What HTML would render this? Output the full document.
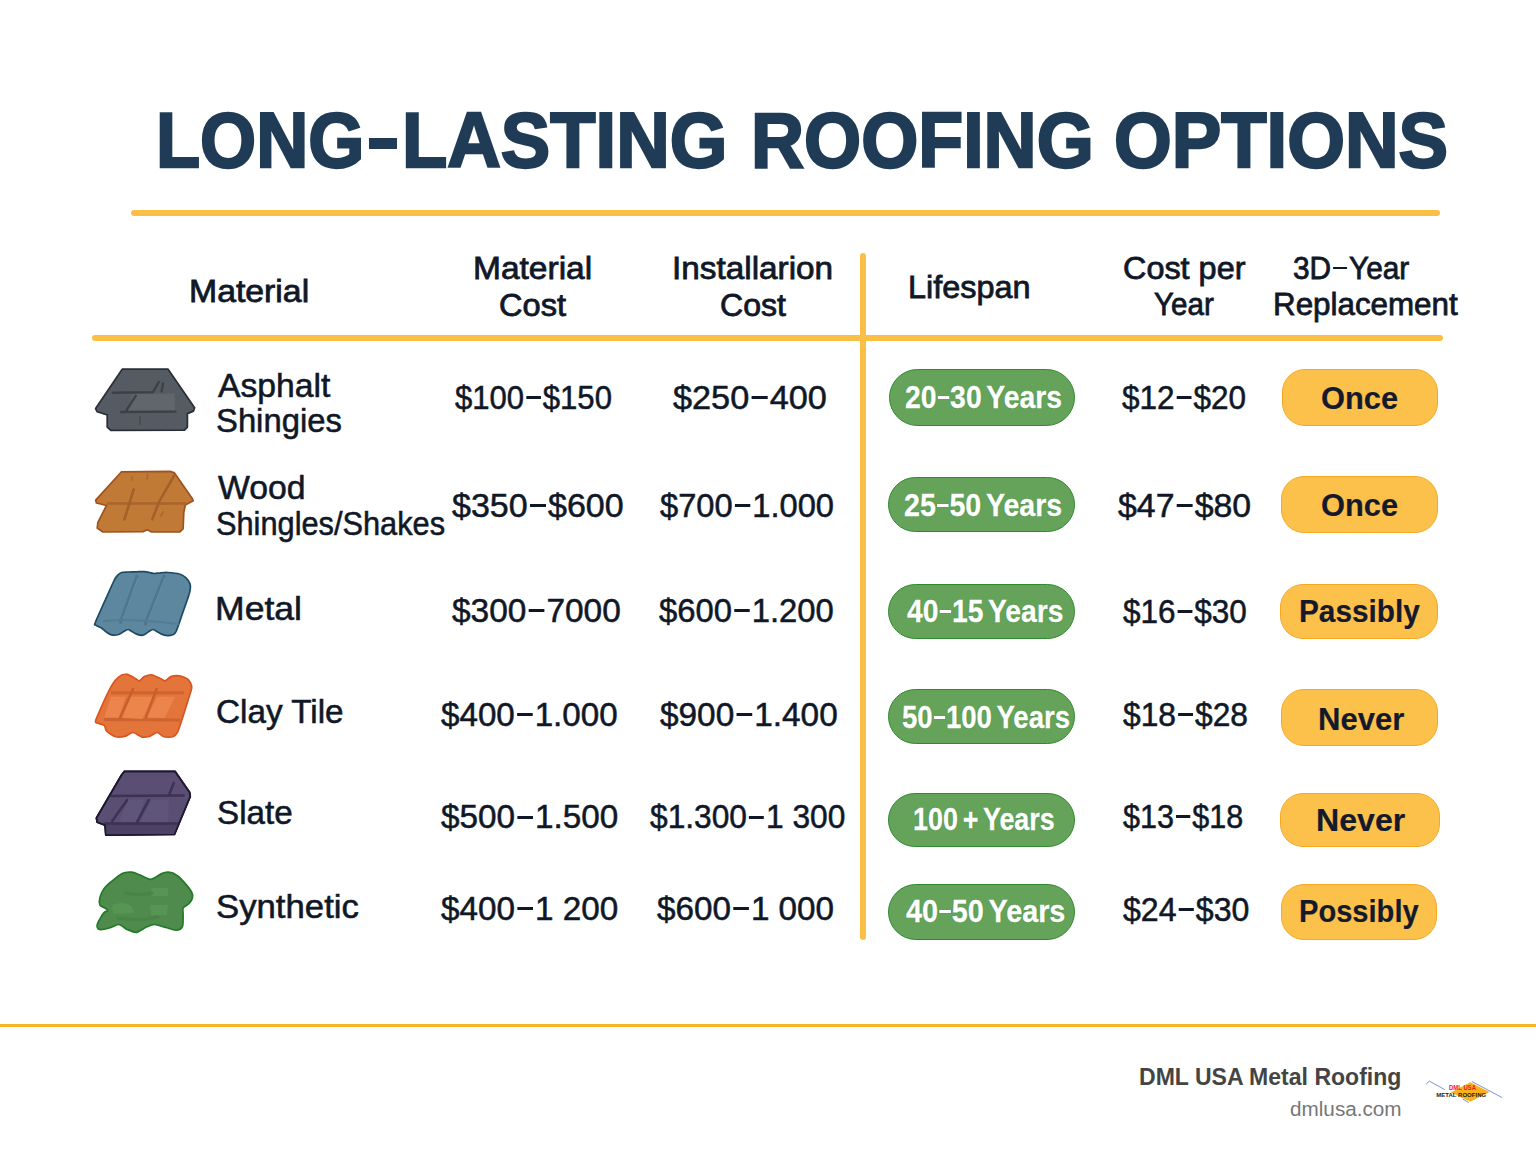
<!DOCTYPE html>
<html><head><meta charset="utf-8"><title>Long-Lasting Roofing Options</title>
<style>
html,body{margin:0;padding:0;background:#ffffff;}
body{width:1536px;height:1154px;position:relative;overflow:hidden;font-family:"Liberation Sans",sans-serif;}
.t{position:absolute;white-space:nowrap;line-height:1;transform-origin:0 0;}
.title{-webkit-text-stroke:2.4px #1f3b55;}
.med{-webkit-text-stroke:0.55px #101827;}
.hd{-webkit-text-stroke:0.8px #101827;}
.gt{-webkit-text-stroke:0.4px #ffffff;word-spacing:-3px;text-shadow:0 0 1px #2f7d2f,0 0 1px #2f7d2f;}
.gt .d{margin:0 .04em 0 .04em;width:.4em;}
.yt{-webkit-text-stroke:0.2px #141a2c;}
.d{display:inline-block;width:.47em;height:.09em;background:currentColor;vertical-align:.29em;margin:0 .07em 0 .06em;}
.gt .d{height:.1em;box-shadow:0 0 1px #2f7d2f;}
.td{display:inline-block;width:29px;height:9px;background:currentColor;vertical-align:21.5px;margin:0 7px 0 6px;}
.ln{position:absolute;background:#fbbf45;border-radius:3px;}
.gp{position:absolute;box-sizing:border-box;background:#66a35a;border:1.7px solid #2f8a30;border-radius:29px;}
.yp{position:absolute;box-sizing:border-box;background:#fcc14b;border:1.8px solid #f5a823;border-radius:23px;}
svg{position:absolute;left:0;top:0;}
</style></head><body>
<div class="ln" style="left:131px;top:210px;width:1309px;height:6px"></div>
<div class="ln" style="left:92px;top:335px;width:1351px;height:6px"></div>
<div class="ln" style="left:860px;top:253px;width:6px;height:687px"></div>
<div style="position:absolute;left:0;top:1024px;width:1536px;height:3px;background:#f7b52a"></div>
<svg width="1536" height="1154" viewBox="0 0 1536 1154" style="position:absolute;left:0;top:0">
<path d="M122.2,369.2 L168.1,369.2 L194.6,407.8 L193.5,411.1 L187.4,413.6 L187.4,427.2 L184.6,430.1 L110.8,430.4 L107.2,427.2 L107.2,415.0 L97.2,411.8 L95.6,408.6 Z" fill="#555b62" stroke="#2a2f35" stroke-width="1.7" stroke-linejoin="round"/>
<path d="M132.5,394 L174.5,393.5 L175,410.5 L127,411 Z" fill="#5f666c"/>
<path d="M112.9,392.8 L153,392.1 L158.8,382 M163,383.5 L161.6,391.4 M135.8,395.7 L125.8,411.4 M121,412 L175.5,411.6" fill="none" stroke="#3b4147" stroke-width="2.4" stroke-linecap="round"/>
<path d="M140,417 L140,424" fill="none" stroke="#474d53" stroke-width="2" stroke-linecap="round"/>
<path d="M121.5,471.8 L170.2,471.4 L174.5,472.9 L192.4,498.7 L193.2,500.8 L185.3,505.1 L183.8,512.3 L183.1,528.8 L179.5,532.0 L151.6,532.0 L147.3,529.8 L143.0,531.6 L102.9,532.0 L97.2,528.0 L97.9,522.3 L106.5,505.5 L96.4,503.0 L95.7,500.1 Z" fill="#c07a36" stroke="#a0521c" stroke-width="1.7" stroke-linejoin="round"/>
<path d="M107,503.5 L186,503.5" fill="none" stroke="#a9652c" stroke-width="2.6"/>
<path d="M174.5,475 L158.8,502.2 L152.3,519.4 M133.7,489.4 L124.4,519.4" fill="none" stroke="#a3612a" stroke-width="2.6" stroke-linecap="round"/>
<path d="M147.5,474.5 L147,479 M132,477 L131.5,480 M163,512 L161,516" fill="none" stroke="#ad6a30" stroke-width="1.8" stroke-linecap="round"/>
<path d="M121.5,572.5 C123.3,571.9 125.5,572.1 128.0,572.0 C130.5,571.9 133.8,571.9 136.6,571.8 C139.3,571.7 142.3,571.5 144.4,571.6 C146.6,571.7 147.8,572.2 149.5,572.5 C151.1,572.8 152.7,573.4 154.5,573.5 C156.3,573.5 158.1,573.0 160.2,572.9 C162.3,572.7 164.1,572.3 167.4,572.5 C170.6,572.7 176.4,573.1 179.5,574.0 C182.6,574.8 184.3,576.3 186.0,577.9 C187.7,579.5 189.2,581.8 189.9,583.6 C190.6,585.4 190.5,586.7 190.3,588.6 C190.1,590.5 190.2,590.9 188.9,595.1 C187.5,599.3 184.6,607.6 182.4,613.7 C180.3,619.8 177.6,628.1 176.0,631.6 C174.3,635.1 173.8,634.2 172.4,634.8 C170.9,635.5 169.2,635.7 167.4,635.6 C165.6,635.4 163.5,634.9 161.6,634.1 C159.7,633.4 157.3,631.7 155.9,630.9 C154.5,630.1 154.2,629.4 153.0,629.5 C151.8,629.6 150.4,630.7 148.7,631.6 C147.1,632.6 145.0,634.8 143.0,635.2 C141.0,635.6 138.5,634.8 136.6,634.1 C134.7,633.5 133.0,632.0 131.5,631.3 C130.1,630.5 129.3,629.4 128.0,629.5 C126.7,629.5 125.2,630.8 123.7,631.6 C122.1,632.5 120.7,633.9 118.7,634.5 C116.6,635.0 113.6,635.3 111.5,634.8 C109.3,634.4 107.4,632.8 105.8,631.6 C104.1,630.5 103.1,629.1 101.5,628.0 C99.8,627.0 96.7,626.1 95.7,625.2 C94.7,624.2 93.9,626.1 95.4,622.3 C96.8,618.5 101.3,609.1 104.3,602.2 C107.4,595.4 111.5,585.9 113.6,581.5 C115.8,577.1 115.9,577.2 117.2,575.7 C118.5,574.3 119.7,573.1 121.5,572.5 Z" fill="#5d879e" stroke="#1f4a66" stroke-width="1.7" stroke-linejoin="round"/>
<path d="M137,576.5 L120.5,622.3 M164,576.5 L145.5,623.7" fill="none" stroke="#4d778f" stroke-width="3.4" stroke-linecap="round"/>
<path d="M135,578 L119.5,621 M162,578 L144.5,622" fill="none" stroke="#6690a7" stroke-width="1" stroke-linecap="round" transform="translate(3,0)"/>
<path d="M104,621 Q130,618 178,624" fill="none" stroke="#527d95" stroke-width="2.2" stroke-linecap="round"/>
<path d="M111.5,685.9 C114.2,681.1 118.2,677.2 120.1,675.9 C121.9,674.5 125.4,674.1 127.2,674.4 C129.1,674.8 134.4,678.0 135.8,678.7 C137.3,679.5 138.4,681.1 139.4,680.9 C140.4,680.6 143.0,677.3 144.4,676.6 C145.9,675.9 149.7,674.6 151.6,674.8 C153.5,675.1 159.3,678.0 160.9,678.7 C162.5,679.5 164.0,681.1 165.2,680.9 C166.4,680.6 169.3,677.2 170.9,676.6 C172.6,676.0 177.5,675.5 179.5,675.9 C181.5,676.2 186.7,678.2 188.1,679.5 C189.6,680.7 191.5,685.0 191.7,686.6 C192.0,688.2 191.9,687.9 190.3,693.1 C188.7,698.3 180.2,725.9 178.1,731.0 C176.0,736.1 174.0,736.1 172.4,736.8 C170.7,737.4 165.5,737.3 163.8,736.8 C162.0,736.3 158.9,732.6 157.3,732.5 C155.7,732.4 151.9,735.5 150.2,736.1 C148.4,736.6 144.3,737.5 142.3,737.1 C140.3,736.7 134.9,732.6 133.0,732.5 C131.1,732.3 127.8,735.6 125.8,736.1 C123.8,736.6 118.0,737.4 115.8,736.8 C113.5,736.2 107.8,732.4 106.5,731.0 C105.1,729.7 105.6,726.3 104.3,725.3 C103.1,724.3 96.6,723.4 95.7,722.4 C94.9,721.4 95.3,721.0 97.2,716.7 C99.0,712.4 108.8,690.7 111.5,685.9 Z" fill="#e3743a" stroke="#d8551f" stroke-width="1.7" stroke-linejoin="round"/>
<path d="M111,692.7 L184,692.7 M104,719.5 L180,720" fill="none" stroke="#cf6330" stroke-width="3"/>
<path d="M110.8,696.7 L125.8,696.7 L118.7,717.4 L104.3,717.4 Z" fill="#ec854c"/>
<path d="M130.1,696.7 L153.0,696.7 L142.3,718.9 L120.1,717.4 Z" fill="#ec854c"/>
<path d="M157.3,696.7 L175.2,696.7 L164.5,718.1 L146.6,717.4 Z" fill="#ec854c"/>
<path d="M133,689 L120.1,718.1 M156.6,689 L145.9,717.4" fill="none" stroke="#c85f2c" stroke-width="2.6" stroke-linecap="round"/>
<path d="M124.4,771.4 L175.2,771.4 L189.6,792.2 L190.3,796.5 L174.5,834.5 L105.8,835.2 L105.0,825.2 L97.2,822.3 L96.4,818.0 L121.5,775.0 Z" fill="#5a4e72" stroke="#1e1830" stroke-width="1.7" stroke-linejoin="round"/>
<path d="M105.8,823.0 L179.5,823.0 L174.5,834.5 L105.8,835.2 Z" fill="#4d4264"/>
<path d="M128.0,799.4 L144.4,799.4 L137.3,822.3 L118.7,822.3 Z" fill="#5f5479"/><path d="M151.6,799.4 L168.8,799.4 L168.1,822.3 L140.1,822.3 Z" fill="#5f5479"/>
<path d="M111,796 L183.5,795.5 M127.2,800.1 L112.2,820.9 M148.7,800.1 L137.3,821.6 M173.8,782.9 L169.5,793.7 M105,823.4 L178,823.4" fill="none" stroke="#3c3254" stroke-width="2.5" stroke-linecap="round"/>
<path d="M124.4,771.4 L175.2,771.4 L189.6,792.2 L190.3,796.5 L174.5,834.5 L105.8,835.2 L105.0,825.2 L97.2,822.3 L96.4,818.0 L121.5,775.0 Z" fill="none" stroke="#1e1830" stroke-width="1.7" stroke-linejoin="round"/>
<path d="M100.0,897.2 C100.8,894.8 102.8,889.6 105.8,886.5 C108.7,883.3 118.8,875.5 122.2,873.6 C125.7,871.7 129.2,872.0 131.5,872.2 C133.9,872.4 137.6,874.1 140.1,875.0 C142.7,876.0 148.0,879.5 150.9,879.3 C153.8,879.1 159.2,874.6 161.6,873.6 C164.0,872.6 166.7,871.9 168.8,872.2 C170.9,872.4 175.2,874.2 177.4,875.7 C179.6,877.3 183.4,881.4 185.3,883.6 C187.2,885.8 190.8,890.3 191.7,892.2 C192.7,894.1 192.8,896.4 192.4,898.0 C192.1,899.5 190.1,902.3 188.9,903.7 C187.6,905.0 183.9,906.5 183.1,908.0 C182.4,909.5 183.2,912.7 183.1,915.1 C183.0,917.6 183.4,924.6 182.4,926.6 C181.5,928.6 178.3,930.1 176.0,930.2 C173.7,930.3 168.1,928.1 165.2,927.3 C162.3,926.6 157.0,924.5 154.5,924.5 C151.9,924.5 148.3,926.3 145.9,927.3 C143.5,928.4 139.0,932.0 136.6,932.3 C134.1,932.6 129.6,930.5 127.2,929.5 C124.9,928.4 121.0,924.6 118.7,924.5 C116.3,924.3 111.9,927.4 109.3,928.0 C106.8,928.7 100.9,929.9 99.3,929.5 C97.7,929.0 96.6,926.7 97.2,924.5 C97.7,922.3 102.2,914.8 103.6,913.0 C105.0,911.2 107.4,911.5 107.6,910.8 C107.7,910.2 106.0,908.7 105.0,908.0 C104.0,907.2 100.7,906.5 100.0,905.1 C99.4,903.7 99.3,899.7 100.0,897.2 Z" fill="#4e8b4c" stroke="#217a26" stroke-width="1.7" stroke-linejoin="round"/>
<path d="M112,905 Q125,900 132,907 L134,913 L113,914 Z M151,888 L168,888 L168,896 L152,896 Z M150,905 L168,905 L167,915 L151,915 Z" fill="#5a9757" opacity="0.8"/>
<path d="M125,893 Q140,896 152,893 M118,918 Q140,922 158,917" fill="none" stroke="#478246" stroke-width="3" stroke-linecap="round" opacity="0.8"/>
<g>
<path d="M1450.8,1092.6 L1470.3,1082.3 L1489.5,1092 L1470.3,1101.8 Z" fill="#fbb21a"/>
<path d="M1426.2,1084.2 L1429.3,1081.1 L1444.9,1089.7 M1471.9,1081.5 L1502,1097.5 M1462.5,1099 L1468.75,1102.6" fill="none" stroke="#5a78c8" stroke-width="0.8"/>
<text x="1462.5" y="1089.8" font-family="Liberation Sans" font-weight="700" font-size="6.8" fill="#e8202a" text-anchor="middle" textLength="27" lengthAdjust="spacingAndGlyphs">DML USA</text>
<text x="1461.2" y="1096.8" font-family="Liberation Sans" font-weight="700" font-size="6" fill="#222" text-anchor="middle" textLength="50" lengthAdjust="spacingAndGlyphs">METAL ROOFING</text>
</g>
</svg>
<div class="t title" style="left:156.00px;top:101.16px;font-size:78px;font-weight:700;color:#1f3b55;transform:scaleX(0.9245);">LONG</div>
<div class="t title" style="left:402.00px;top:101.16px;font-size:78px;font-weight:700;color:#1f3b55;transform:scaleX(0.9505);">LASTING</div>
<div class="t title" style="left:751.40px;top:101.16px;font-size:78px;font-weight:700;color:#1f3b55;transform:scaleX(0.9417);">ROOFING</div>
<div class="t title" style="left:1114.00px;top:101.16px;font-size:78px;font-weight:700;color:#1f3b55;transform:scaleX(0.9517);">OPTIONS</div>
<div style="position:absolute;left:368.6px;top:138.2px;width:28px;height:11px;background:#1f3b55"></div>
<div class="t hd" style="left:189.00px;top:274.71px;font-size:32px;font-weight:400;color:#101827;transform:scaleX(1.0557);">Material</div>
<div class="t hd" style="left:473.00px;top:252.21px;font-size:32px;font-weight:400;color:#101827;transform:scaleX(1.0470);">Material</div>
<div class="t hd" style="left:499.00px;top:288.71px;font-size:32px;font-weight:400;color:#101827;transform:scaleX(1.0186);">Cost</div>
<div class="t hd" style="left:672.00px;top:252.21px;font-size:32px;font-weight:400;color:#101827;transform:scaleX(1.0411);">Installarion</div>
<div class="t hd" style="left:720.00px;top:288.71px;font-size:32px;font-weight:400;color:#101827;transform:scaleX(1.0033);">Cost</div>
<div class="t hd" style="left:908.40px;top:270.71px;font-size:32px;font-weight:400;color:#101827;transform:scaleX(1.0126);">Lifespan</div>
<div class="t hd" style="left:1123.00px;top:251.71px;font-size:32px;font-weight:400;color:#101827;transform:scaleX(1.0125);">Cost per</div>
<div class="t hd" style="left:1154.20px;top:288.21px;font-size:32px;font-weight:400;color:#101827;transform:scaleX(0.9248);">Year</div>
<div class="t hd" style="left:1293.00px;top:251.71px;font-size:32px;font-weight:400;color:#101827;transform:scaleX(0.9319);">3D<span class="d"></span>Year</div>
<div class="t hd" style="left:1272.80px;top:288.21px;font-size:32px;font-weight:400;color:#101827;transform:scaleX(0.9794);">Replacement</div>
<div class="t med" style="left:217.70px;top:369.26px;font-size:33px;font-weight:400;color:#101827;transform:scaleX(1.0202);">Asphalt</div>
<div class="t med" style="left:216.00px;top:404.36px;font-size:33px;font-weight:400;color:#101827;transform:scaleX(0.9940);">Shingies</div>
<div class="t med" style="left:455.40px;top:379.81px;font-size:34px;font-weight:400;color:#101827;transform:scaleX(0.9143);">$100<span class="d"></span>$150</div>
<div class="t med" style="left:672.80px;top:379.81px;font-size:34px;font-weight:400;color:#101827;transform:scaleX(1.0074);">$250<span class="d"></span>400</div>
<div class="gp" style="left:888.5px;top:369px;width:186.5px;height:57px"></div>
<div class="t gt" style="left:905.40px;top:381.41px;font-size:32px;font-weight:700;color:#ffffff;transform:scaleX(0.8861);">20<span class="d"></span>30 Years</div>
<div class="t med" style="left:1121.60px;top:379.71px;font-size:34px;font-weight:400;color:#101827;transform:scaleX(0.9269);">$12<span class="d"></span>$20</div>
<div class="yp" style="left:1282px;top:369px;width:156px;height:57px"></div>
<div class="t yt" style="left:1320.50px;top:382.11px;font-size:32px;font-weight:700;color:#141a2c;transform:scaleX(0.9630);">Once</div>
<div class="t med" style="left:217.50px;top:470.56px;font-size:33px;font-weight:400;color:#101827;transform:scaleX(1.0230);">Wood</div>
<div class="t med" style="left:216.00px;top:506.56px;font-size:33px;font-weight:400;color:#101827;transform:scaleX(0.9317);">Shingles/Shakes</div>
<div class="t med" style="left:452.30px;top:488.21px;font-size:34px;font-weight:400;color:#101827;transform:scaleX(1.0001);">$350<span class="d"></span>$600</div>
<div class="t med" style="left:660.00px;top:488.21px;font-size:34px;font-weight:400;color:#101827;transform:scaleX(0.9606);">$700<span class="d"></span>1.000</div>
<div class="gp" style="left:888px;top:476.7px;width:187px;height:55.80000000000001px"></div>
<div class="t gt" style="left:904.20px;top:489.31px;font-size:32px;font-weight:700;color:#ffffff;transform:scaleX(0.8927);">25<span class="d"></span>50 Years</div>
<div class="t med" style="left:1117.50px;top:487.61px;font-size:34px;font-weight:400;color:#101827;transform:scaleX(0.9949);">$47<span class="d"></span>$80</div>
<div class="yp" style="left:1280.7px;top:475.6px;width:157.70000000000005px;height:57.39999999999998px"></div>
<div class="t yt" style="left:1320.60px;top:489.31px;font-size:32px;font-weight:700;color:#141a2c;transform:scaleX(0.9630);">Once</div>
<div class="t med" style="left:214.70px;top:591.86px;font-size:33px;font-weight:400;color:#101827;transform:scaleX(1.0785);">Metal</div>
<div class="t med" style="left:452.30px;top:593.21px;font-size:34px;font-weight:400;color:#101827;transform:scaleX(0.9830);">$300<span class="d"></span>7000</div>
<div class="t med" style="left:659.20px;top:593.21px;font-size:34px;font-weight:400;color:#101827;transform:scaleX(0.9650);">$600<span class="d"></span>1.200</div>
<div class="gp" style="left:888px;top:584.3px;width:187px;height:54.700000000000045px"></div>
<div class="t gt" style="left:906.80px;top:595.41px;font-size:32px;font-weight:700;color:#ffffff;transform:scaleX(0.8827);">40<span class="d"></span>15 Years</div>
<div class="t med" style="left:1123.00px;top:593.71px;font-size:34px;font-weight:400;color:#101827;transform:scaleX(0.9254);">$16<span class="d"></span>$30</div>
<div class="yp" style="left:1280px;top:584.3px;width:158.4000000000001px;height:54.700000000000045px"></div>
<div class="t yt" style="left:1299.20px;top:595.41px;font-size:32px;font-weight:700;color:#141a2c;transform:scaleX(0.9303);">Passibly</div>
<div class="t med" style="left:216.00px;top:694.76px;font-size:33px;font-weight:400;color:#101827;transform:scaleX(1.0086);">Clay Tile</div>
<div class="t med" style="left:441.00px;top:697.21px;font-size:34px;font-weight:400;color:#101827;transform:scaleX(0.9756);">$400<span class="d"></span>1.000</div>
<div class="t med" style="left:660.00px;top:697.21px;font-size:34px;font-weight:400;color:#101827;transform:scaleX(0.9812);">$900<span class="d"></span>1.400</div>
<div class="gp" style="left:888px;top:689.3px;width:187px;height:54.700000000000045px"></div>
<div class="t gt" style="left:902.00px;top:701.11px;font-size:32px;font-weight:700;color:#ffffff;transform:scaleX(0.8617);">50<span class="d"></span>100 Years</div>
<div class="t med" style="left:1123.00px;top:696.51px;font-size:34px;font-weight:400;color:#101827;transform:scaleX(0.9337);">$18<span class="d"></span>$28</div>
<div class="yp" style="left:1280.7px;top:689.3px;width:157.70000000000005px;height:56.700000000000045px"></div>
<div class="t yt" style="left:1317.70px;top:702.91px;font-size:32px;font-weight:700;color:#141a2c;transform:scaleX(0.9706);">Never</div>
<div class="t med" style="left:217.00px;top:796.06px;font-size:33px;font-weight:400;color:#101827;transform:scaleX(1.0054);">Slate</div>
<div class="t med" style="left:441.00px;top:799.41px;font-size:34px;font-weight:400;color:#101827;transform:scaleX(0.9789);">$500<span class="d"></span>1.500</div>
<div class="t med" style="left:650.00px;top:799.41px;font-size:34px;font-weight:400;color:#101827;transform:scaleX(0.9327);">$1.300<span class="d"></span>1 300</div>
<div class="gp" style="left:888px;top:793.2px;width:187px;height:54.09999999999991px"></div>
<div class="t gt" style="left:913.30px;top:803.21px;font-size:32px;font-weight:700;color:#ffffff;transform:scaleX(0.8401);">100 + Years</div>
<div class="t med" style="left:1123.00px;top:798.91px;font-size:34px;font-weight:400;color:#101827;transform:scaleX(0.8974);">$13<span class="d"></span>$18</div>
<div class="yp" style="left:1280px;top:793px;width:159.5px;height:54.299999999999955px"></div>
<div class="t yt" style="left:1315.80px;top:804.31px;font-size:32px;font-weight:700;color:#141a2c;transform:scaleX(1.0030);">Never</div>
<div class="t med" style="left:216.00px;top:889.66px;font-size:33px;font-weight:400;color:#101827;transform:scaleX(1.0529);">Synthetic</div>
<div class="t med" style="left:441.00px;top:891.01px;font-size:34px;font-weight:400;color:#101827;transform:scaleX(0.9789);">$400<span class="d"></span>1 200</div>
<div class="t med" style="left:656.90px;top:891.01px;font-size:34px;font-weight:400;color:#101827;transform:scaleX(0.9778);">$600<span class="d"></span>1 000</div>
<div class="gp" style="left:888px;top:884.3px;width:187px;height:55.700000000000045px"></div>
<div class="t gt" style="left:905.70px;top:895.41px;font-size:32px;font-weight:700;color:#ffffff;transform:scaleX(0.8991);">40<span class="d"></span>50 Years</div>
<div class="t med" style="left:1123.00px;top:891.51px;font-size:34px;font-weight:400;color:#101827;transform:scaleX(0.9442);">$24<span class="d"></span>$30</div>
<div class="yp" style="left:1280.7px;top:884.3px;width:156.5999999999999px;height:55.700000000000045px"></div>
<div class="t yt" style="left:1299.20px;top:895.41px;font-size:32px;font-weight:700;color:#141a2c;transform:scaleX(0.9092);">Possibly</div>
<div class="t " style="left:1139.00px;top:1065.28px;font-size:24px;font-weight:700;color:#444444;transform:scaleX(0.9600);">DML USA Metal Roofing</div>
<div class="t " style="left:1289.50px;top:1099.89px;font-size:19.5px;font-weight:400;color:#777777;transform:scaleX(1.0618);">dmlusa.com</div>
</body></html>
